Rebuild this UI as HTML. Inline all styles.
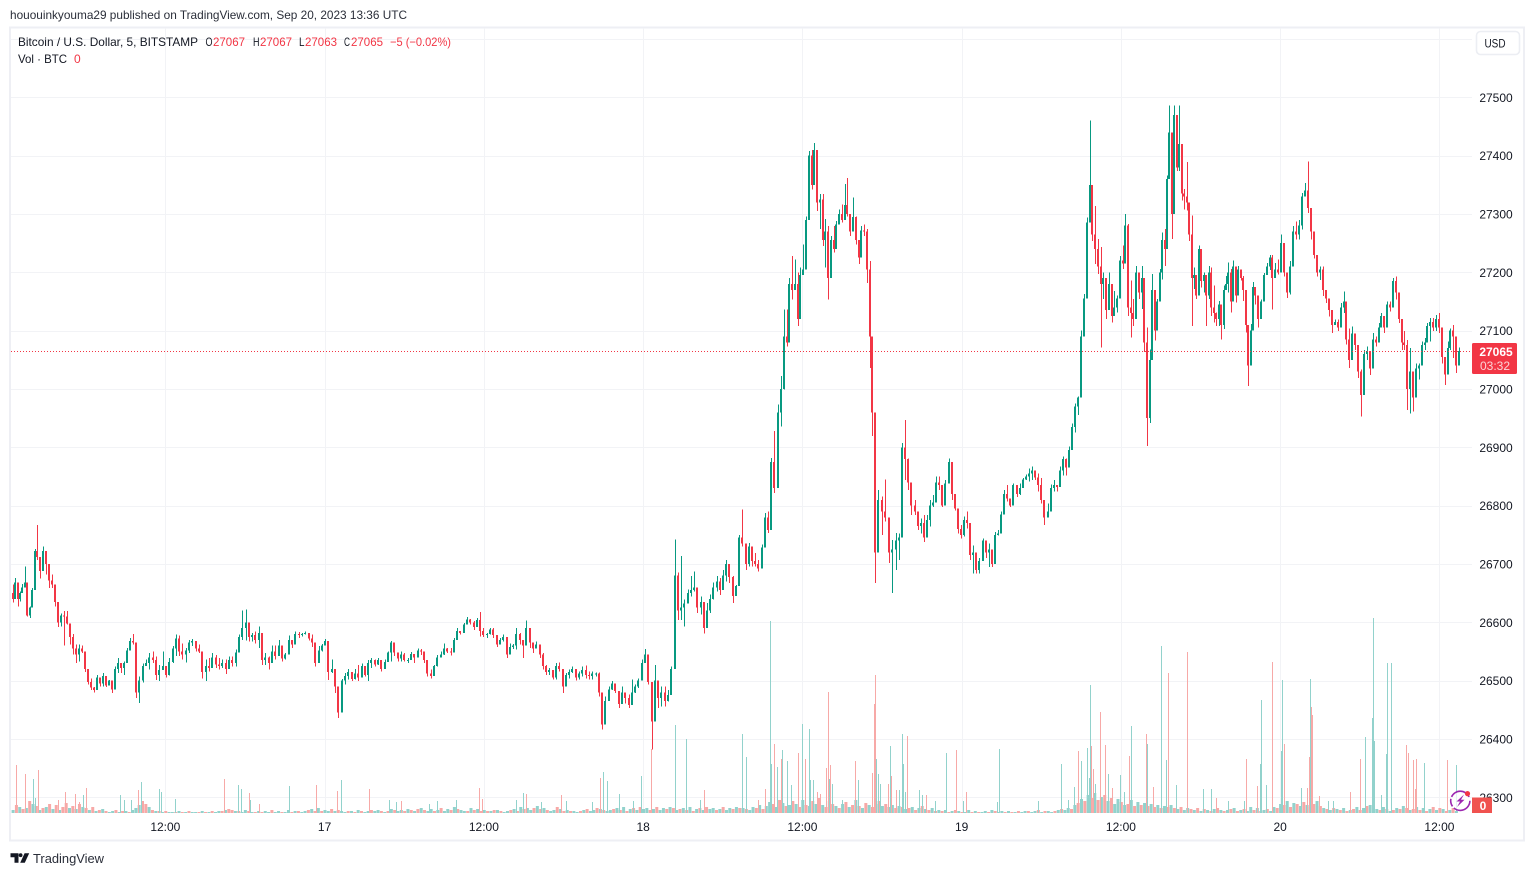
<!DOCTYPE html>
<html lang="en">
<head>
<meta charset="utf-8">
<title>BTC/USD TradingView chart</title>
<style>
html,body{margin:0;padding:0;background:#fff;width:1534px;height:876px;overflow:hidden}
svg{display:block;font-family:"Liberation Sans",sans-serif}
text{fill:#131722;font-size:12px}
.red{fill:#f23645}
</style>
</head>
<body>
<svg id="chart" width="1534" height="876" viewBox="0 0 1534 876" xmlns="http://www.w3.org/2000/svg">
  <rect x="0" y="0" width="1534" height="876" fill="#ffffff"/>
  <text x="10" y="19" textLength="397" lengthAdjust="spacingAndGlyphs" style="fill:#2a2e39">hououinkyouma29 published on TradingView.com, Sep 20, 2023 13:36 UTC</text>
  <rect x="10" y="27.5" width="1514" height="813" fill="none" stroke="#eeeff4" stroke-width="2"/>
  <g id="grid"></g>
  <g id="volumeFloorLayer"></g>
  <g id="volumeSpikeLayer"></g>
  <g id="candleLayer"></g>
  <line x1="11" x2="1472" y1="351.5" y2="351.5" stroke="#f23645" stroke-width="1" stroke-dasharray="1 2"/>
  <g id="priceAxis"></g>
  <g id="timeAxis"></g>

  <g>
    <text x="18" y="46" textLength="180" lengthAdjust="spacingAndGlyphs">Bitcoin / U.S. Dollar, 5, BITSTAMP</text>
    <text x="205.5" y="46" textLength="7" lengthAdjust="spacingAndGlyphs">O</text>
    <text class="red" x="213" y="46" textLength="32" lengthAdjust="spacingAndGlyphs">27067</text>
    <text x="253" y="46" textLength="6.5" lengthAdjust="spacingAndGlyphs">H</text>
    <text class="red" x="260" y="46" textLength="32" lengthAdjust="spacingAndGlyphs">27067</text>
    <text x="299" y="46" textLength="5.5" lengthAdjust="spacingAndGlyphs">L</text>
    <text class="red" x="305" y="46" textLength="32" lengthAdjust="spacingAndGlyphs">27063</text>
    <text x="344" y="46" textLength="6" lengthAdjust="spacingAndGlyphs">C</text>
    <text class="red" x="351" y="46" textLength="32" lengthAdjust="spacingAndGlyphs">27065</text>
    <text class="red" x="390" y="46" textLength="61" lengthAdjust="spacingAndGlyphs">−5 (−0.02%)</text>
    <text x="18" y="63" textLength="49" lengthAdjust="spacingAndGlyphs">Vol · BTC</text>
    <text class="red" x="74" y="63">0</text>
  </g>

  <g>
    <rect x="1476.5" y="31.5" width="43" height="23" rx="4" fill="#ffffff" stroke="#eceef3" stroke-width="1.6"/>
    <text x="1495" y="47.5" text-anchor="middle" textLength="21" lengthAdjust="spacingAndGlyphs">USD</text>
  </g>

  <g>
    <rect x="1472" y="343" width="45" height="31" rx="1.5" fill="#f23645"/>
    <text x="1496" y="356" text-anchor="middle" style="fill:#fff;font-weight:700">27065</text>
    <text x="1495" y="370" text-anchor="middle" style="fill:#fbd3d6">03:32</text>
  </g>

  <g>
    <rect x="1472" y="797.5" width="20" height="15.5" fill="#f0524f"/>
    <text x="1483" y="810" text-anchor="middle" style="fill:#fff;font-weight:700">0</text>
  </g>

  <g>
    <circle cx="1460.3" cy="800.8" r="9.6" fill="#ffffff" fill-opacity="0.75" stroke="#9c27b0" stroke-width="1.6" stroke-dasharray="22 2 8 2 22 4"/>
    <polygon points="1464,794.5 1456.5,801.5 1460,801.5 1457,807 1464.5,799.8 1461,799.8" fill="#9c27b0"/>
    <circle cx="1467.5" cy="793.6" r="2.6" fill="#f23645"/>
  </g>

  <g>
    <path d="M10.5 853.3h8v9.4h-4v-5.4h-4z" fill="#131722"/>
    <circle cx="20.6" cy="855.2" r="1.9" fill="#131722"/>
    <path d="M29.2 853.3l-4.4 9.4h-4.6l4.4-9.4z" fill="#131722"/>
    <text x="33" y="863" textLength="71" lengthAdjust="spacingAndGlyphs" style="font-size:13px;fill:#2a2e39">TradingView</text>
  </g>
</svg>

<script>
// ---------- Axis tick data ----------
const priceTicks = [27600,27500,27400,27300,27200,27100,27000,26900,26800,26700,26600,26500,26400,26300];
const timeTickBars = [139,283,427,571,715,859,1003,1147,1291];
const timeTickLabels = ['12:00','17','12:00','18','12:00','19','12:00','20','12:00'];

// ---------- Candle data: each row is [high, low, close]; a row opens at the previous close ----------
const firstOpen = 26650;
// Time windows in 5-minute bar numbers, and how many rows of the candle list fall in each
const windowStartBars = [0,24,117,297,604,697,782,801,966,1028,1128,1219];
const windowEndBars = [24,117,297,604,697,782,801,966,1028,1128,1219,1310];
const windowRowCounts = [11,34,60,103,32,34,6,59,25,45,34,35];

const sessionA = [
[26665,26634,26640],[26676,26645,26668],[26647,26627,26640],[26653,26636,26650],[26666,26650,26660],[26696,26662,26668],[26636,26610,26612],[26627,26607,26625],[26659,26627,26655],[26726,26659,26722],
[26767,26707,26712],[26690,26675,26688],[26730,26707,26722],[26705,26682,26700],[26693,26659,26672],[26682,26659,26665],[26660,26627,26635],[26630,26592,26600],[26615,26593,26612],[26619,26560,26610],
[26619,26596,26598],[26596,26562,26575],[26580,26545,26555],[26562,26530,26545],[26562,26533,26555],[26560,26547,26550],[26547,26515,26520],[26519,26493,26498],[26504,26484,26488],[26489,26480,26484],
[26510,26487,26505],[26504,26490,26495],[26513,26490,26508],[26504,26489,26492],[26501,26493,26500],[26496,26479,26485],[26524,26496,26520],[26539,26513,26530],[26527,26513,26522],[26533,26510,26530],
[26556,26530,26552],[26573,26553,26568],[26580,26562,26565],[26565,26470,26480],[26507,26462,26500],[26529,26497,26525],[26536,26527,26530],[26547,26519,26540],[26550,26530,26535],[26541,26501,26510],
[26527,26499,26518],[26550,26519,26525],[26524,26505,26510],[26539,26509,26532],[26559,26530,26555],[26579,26542,26572],[26577,26542,26550],[26564,26536,26545],[26556,26531,26552],[26570,26547,26565],
[26571,26559,26568],[26567,26550,26555],[26562,26547,26550],[26550,26504,26515],[26536,26499,26525],[26539,26516,26522],[26547,26530,26540],[26544,26522,26528],[26539,26519,26525],[26536,26522,26530],
[26536,26511,26520],[26541,26524,26535],[26541,26524,26530],[26553,26524,26548],[26579,26560,26575],[26620,26570,26590],[26622,26569,26600],[26593,26567,26575],[26582,26567,26578],[26584,26564,26570],
[26593,26556,26582],[26553,26527,26535],[26547,26527,26540],[26541,26519,26530],[26560,26536,26550],[26560,26536,26542],[26570,26542,26560],[26547,26533,26538],[26547,26536,26545],[26577,26547,26570],
[26570,26556,26562],[26584,26570,26580],[26583,26573,26578],[26582,26576,26580],[26584,26579,26582],[26582,26569,26572],[26579,26558,26565],[26547,26524,26530],[26559,26536,26552],[26563,26550,26560],
[26571,26564,26568],[26553,26501,26515],[26536,26513,26520],[26514,26479,26490],[26487,26436,26445]
];

const sessionB = [
[26503,26479,26500],[26513,26493,26508],[26520,26502,26515],[26513,26499,26503],[26520,26502,26512],[26527,26499,26505],[26529,26507,26525],[26519,26507,26510],[26535,26499,26530],[26539,26522,26535],
[26536,26524,26528],[26539,26527,26535],[26533,26516,26520],[26536,26522,26532],[26550,26539,26548],[26568,26533,26565],[26559,26542,26548],[26547,26533,26538],[26550,26533,26545],[26547,26533,26535],
[26539,26530,26535],[26549,26539,26546],[26544,26530,26540],[26555,26546,26552],[26554,26544,26550],[26550,26530,26535],[26530,26507,26512],[26519,26504,26508],[26527,26513,26525],[26544,26524,26540],
[26550,26542,26545],[26564,26544,26555],[26556,26547,26550],[26556,26543,26548],[26573,26553,26570],[26590,26573,26585],[26584,26579,26582],[26599,26590,26596],[26609,26596,26605],[26606,26596,26600],
[26602,26587,26592],[26607,26593,26604],[26618,26576,26585],[26590,26575,26578],[26582,26573,26580],[26590,26579,26588],[26590,26573,26578],[26576,26558,26562],[26573,26564,26570],[26579,26567,26575],
[26562,26539,26545],[26564,26553,26558],[26563,26554,26560],[26590,26553,26580],[26582,26562,26570],[26564,26539,26560],[26603,26562,26590],[26579,26556,26565],[26562,26547,26555],[26567,26558,26562],
[26556,26539,26545],[26547,26519,26525],[26527,26510,26515],[26522,26510,26518],[26516,26502,26505],[26530,26502,26525],[26531,26516,26520],[26519,26479,26490],[26513,26499,26510],[26519,26504,26515],
[26524,26513,26520],[26516,26500,26505],[26516,26502,26512],[26524,26507,26518],[26526,26504,26510],[26516,26502,26508],[26516,26502,26512],[26514,26507,26512],[26514,26473,26480],[26470,26416,26425],
[26473,26441,26465],[26490,26467,26485],[26499,26484,26495],[26490,26479,26482],[26479,26453,26460],[26490,26464,26480],[26479,26461,26470],[26476,26453,26458],[26502,26459,26480],[26493,26479,26490],
[26504,26487,26500],[26536,26513,26530],[26554,26530,26545],[26527,26493,26498],[26490,26382,26430],[26527,26456,26500],[26493,26453,26470],[26490,26456,26480],[26490,26456,26465],[26484,26464,26475],
[26524,26484,26520],[26742,26576,26680],[26685,26604,26620]
];

const sessionC = [
[26714,26604,26625],[26639,26593,26632],[26656,26633,26650],[26679,26644,26655],[26687,26653,26660],[26650,26616,26625],[26644,26613,26635],[26610,26581,26590],[26633,26599,26620],[26648,26616,26640],
[26668,26639,26660],[26679,26653,26670],[26676,26647,26655],[26690,26661,26680],[26707,26670,26700],[26684,26667,26678],[26679,26633,26645],[26664,26653,26662],[26750,26684,26745],[26793,26730,26735],
[26724,26690,26700],[26736,26696,26730],[26730,26696,26705],[26719,26696,26700],[26707,26687,26692],[26733,26702,26728],[26787,26745,26780],[26790,26753,26758],[26882,26779,26875],[26928,26822,26830],
[26973,26916,26960],[27022,26936,27000],[27136,26999,27090],[27136,27073,27080],[27190,27102,27180],[27228,27153,27170],[27222,27171,27180],[27200,27108,27120],[27208,27148,27195],[27248,27199,27205],
[27296,27205,27290],[27408,27296,27400],[27410,27342,27350],[27422,27371,27410],[27362,27305,27320],[27334,27274,27325],[27334,27245,27255],[27291,27208,27270],[27279,27153,27190],[27262,27245,27255],
[27279,27234,27240],[27288,27256,27282],[27308,27285,27300],[27316,27285,27290],[27351,27308,27315],[27362,27296,27300],[27299,27262,27270],[27328,27274,27295],[27296,27248,27255],[27251,27214,27225],
[27279,27248,27272],[27282,27262,27270],[27274,27182,27205],[27219,27036,27090],[27028,26919,26960],[26936,26667,26720],[26827,26765,26810],[26816,26750,26790],[26845,26773,26780],[26776,26702,26720],
[26741,26650,26725],[26753,26690,26740]
];

const sessionD = [
[26752,26707,26745],[26907,26752,26900],[26947,26844,26880],[26881,26827,26840],[26827,26784,26800],[26810,26784,26790],[26790,26758,26765],[26778,26752,26770],[26784,26738,26745],[26784,26761,26775],
[26810,26764,26800],[26818,26798,26805],[26850,26807,26840],[26850,26827,26835],[26832,26798,26800],[26844,26812,26838],[26881,26852,26875],[26855,26810,26820],[26810,26792,26795],[26784,26752,26760],
[26767,26744,26750],[26781,26747,26775],[26790,26761,26770],[26761,26707,26715],[26732,26684,26720],[26712,26684,26690],[26710,26684,26705],[26744,26712,26740],[26727,26710,26720],[26735,26695,26725],
[26711,26695,26700],[26755,26710,26750],[26758,26749,26752],[26790,26752,26785],[26827,26798,26820],[26835,26807,26812],[26810,26798,26800],[26838,26821,26835],[26835,26815,26820],[26838,26818,26830],
[26847,26838,26845],[26853,26844,26850],[26864,26841,26855],[26867,26844,26860],[26853,26844,26848],[26855,26824,26835],[26847,26804,26810],[26801,26767,26780],[26804,26781,26790],[26836,26790,26830],
[26844,26824,26835],[26835,26824,26832],[26867,26835,26860],[26884,26852,26880],[26881,26852,26865],[26901,26873,26895],[26941,26918,26935],[26975,26925,26970],[26987,26955,26985]
];

const sessionE = [
[27100,27042,27090],[27163,27108,27155],[27294,27186,27285],[27460,27326,27350],[27326,27254,27265],[27314,27214,27240],[27257,27197,27210],[27243,27071,27180],[27200,27154,27190],[27183,27120,27135],
[27200,27145,27180],[27168,27114,27125],[27168,27131,27140],[27160,27131,27155],[27228,27160,27220],[27246,27206,27215],[27300,27237,27280],[27283,27125,27140],[27186,27088,27130],[27154,27108,27120],
[27211,27154,27200],[27194,27154,27165],[27211,27137,27190],[27183,27063,27080],[27105,26902,26950],[27068,26942,27050],[27197,27085,27170],[27160,27083,27100],[27154,27125,27150],[27206,27154,27200],
[27268,27188,27255],[27274,27211,27240],[27366,27280,27360],[27486,27366,27440],[27377,27257,27300],[27486,27306,27470],[27454,27374,27380],[27486,27374,27420],[27366,27323,27335],[27343,27308,27330],
[27389,27306,27320],[27297,27254,27265],[27297,27108,27190],[27208,27171,27195],[27194,27154,27160],[27246,27206,27240],[27217,27174,27185],[27200,27165,27195],[27188,27108,27160],[27211,27154,27200],
[27208,27125,27140],[27177,27114,27130],[27131,27108,27120],[27151,27108,27145],[27143,27085,27110],[27177,27103,27170],[27194,27171,27180],[27217,27165,27200],[27206,27131,27150],[27220,27154,27210],
[27183,27148,27160],[27211,27171,27205],[27203,27186,27190],[27194,27151,27170],[27148,27097,27110],[27100,27005,27040],[27111,27074,27100],[27183,27140,27175],[27168,27145,27160],[27148,27105,27120]
];

const sessionF = [
[27153,27127,27150],[27199,27187,27195],[27216,27196,27210],[27230,27204,27225],[27230,27136,27190],[27216,27199,27205],[27222,27196,27200],[27265,27227,27250],[27236,27193,27200],[27190,27156,27165],
[27219,27162,27210],[27279,27219,27270],[27287,27256,27265],[27290,27256,27280],[27336,27273,27330],[27353,27333,27340],[27390,27302,27310],[27290,27256,27270],[27262,27224,27230],[27230,27193,27200],
[27210,27187,27205],[27210,27159,27170],[27164,27147,27155],[27153,27124,27135],[27124,27096,27110],[27119,27110,27115],[27119,27099,27105],[27147,27110,27140],[27167,27130,27150],[27110,27076,27085],
[27104,27036,27050],[27107,27070,27095],[27090,27067,27075],[27070,27019,27030],[27033,26953,26990],[27067,27039,27060],[27073,27050,27065],[27055,27024,27035],[27096,27056,27085],[27090,27073,27080],
[27113,27087,27105],[27130,27113,27125],[27122,27096,27105],[27150,27130,27145],[27150,27133,27140],[27190,27156,27185],[27193,27153,27165],[27142,27113,27120],[27116,27067,27080],[27099,27067,27075],
[27084,26964,27000],[27070,26958,27030],[27010,26961,26985],[27044,27030,27035],[27044,27016,27040],[27081,27047,27075],[27087,27067,27080],[27113,27096,27108],[27122,27081,27115],[27122,27099,27105],
[27127,27099,27120],[27130,27096,27105],[27079,27044,27055],[27041,27007,27025],[27081,27039,27070],[27104,27067,27100],[27110,27053,27090],[27076,27027,27040],[27071,27063,27065]
];

const candleRows = [].concat(sessionA,sessionB,sessionC,sessionD,sessionE,sessionF);

// ---------- Volume data: positive = up bar, negative = down bar ----------
// Background volume, one entry for every three 5-minute bars
const volumeFloorStepBars = 3;
const volumeFloor = [
3,-8,6,-4,5,-12,9,-7,3,-5,6,-9,4,-8,3,-6,-10,5,-7,4,
-9,6,-5,3,-6,2,-3,4,-2,1,2,-3,1,-2,2,-1,3,5,8,-12,
-9,6,-3,2,-2,1,-2,1,1,-1,2,-1,1,-2,1,1,-1,2,-1,1,
-2,1,2,-2,3,-4,-3,2,-2,1,3,-2,1,-1,2,-1,2,1,-3,1,
2,-1,1,3,-1,2,-2,1,2,-3,4,-2,5,-2,3,2,-4,2,-3,2,
1,-2,2,-1,3,-2,1,2,-3,2,3,-2,1,-2,4,-3,2,3,-2,4,
-3,2,-4,5,-3,2,4,-2,3,-5,2,4,-3,6,-4,3,2,-2,5,-3,
4,-2,3,-2,2,-3,3,-2,1,2,-3,4,-2,6,-4,5,3,-5,7,-4,
5,-3,2,3,-6,4,-2,3,-2,2,1,-2,3,-4,2,3,-5,4,-3,2,
3,-4,5,-3,6,-2,4,-5,3,-6,4,5,-3,4,-6,3,5,-4,6,-5,
3,-4,5,-3,6,-2,4,-5,3,-6,4,5,-3,4,-6,3,5,-4,6,-5,
5,-4,3,6,-5,8,-4,7,11,-9,6,-13,10,-7,8,-12,9,-6,13,-8,
7,-12,9,-15,8,-6,12,-9,7,-5,9,-11,6,-8,13,-7,5,-10,8,-6,
9,-12,7,-9,6,8,-5,7,-6,4,-5,6,-3,5,-7,4,-3,5,-2,3,
-2,3,-1,2,-3,2,-1,1,3,-1,2,-1,1,2,-1,3,-2,1,2,-1,
2,-1,1,-2,1,2,-2,1,2,-3,1,-2,2,1,-2,3,-4,3,5,-4,
8,-10,14,-12,18,-15,20,-13,16,-18,12,-15,9,14,-11,8,-9,13,-7,11,
-8,10,-7,9,-6,8,-5,7,-6,8,-5,4,-6,3,5,-4,3,-5,2,-4,
3,-2,4,-5,3,-2,3,-4,5,-2,3,-4,2,6,-3,5,-2,3,-4,2,
6,-5,9,-8,12,-6,10,-9,7,-11,8,6,-9,12,-7,5,-4,3,-5,4,
-3,5,-2,3,-4,6,-3,5,-7,8,-5,4,-3,6,-4,2,-3,5,-4,7,
-5,3,-4,6,-3,5,-2,4,-6,3,-5,4,-2,3,-5,2
];

// Isolated volume spikes as [5-minute bar number, signed volume]
const volumeSpikes = [
[4,-48],[12,-39],[19,34],[21,15],[24,-43],[42,-13],[48,-21],[57,-19],[61,-11],[65,18],[67,-25],[98,18],[102,13],[108,13],[114,-23],[117,31],[133,24],[135,21],[148,14],
[192,-34],[205,28],[207,24],[215,-20],[216,13],[224,-9],[251,27],[275,-28],[294,-22],[298,33],[323,-24],[341,13],[348,11],[352,-12],[377,9],[385,12],[402,13],[423,-25],[425,-14],
[456,13],[462,20],[465,-19],[479,11],[497,-18],[501,12],[525,11],[532,-35],[535,41],[538,32],[549,19],[562,12],[569,37],[578,-64],[600,88],[610,74],[622,13],[626,-23],[660,79],[664,56],[675,-13],
[681,-24],[686,192],[687,49],[689,-69],[692,46],[696,-54],[697,63],[701,52],[705,28],[711,-60],[715,89],[717,-54],[721,84],[722,33],[725,33],[728,-21],[731,-19],[736,-45],[738,-121],[739,34],[740,-48],[742,29],[751,13],
[763,-52],[765,33],[778,-40],[780,-109],[781,-138],[782,54],[783,39],[785,29],[792,-29],[794,67],[795,-37],[800,-23],[802,23],[805,79],[806,49],[808,21],[810,-77],[820,23],[823,18],[827,-18],[835,12],[845,60],[854,-63],[860,12],[863,-21],
[891,11],[893,64],[928,12],[949,49],[955,13],[961,26],[964,-62],[967,52],[972,65],[974,35],[975,128],[976,-67],[978,-44],[980,29],[984,-101],[989,-68],[991,39],[995,-25],[1002,38],[1006,21],[1010,-57],[1012,87],[1026,-79],[1027,69],[1032,-26],[1039,167],[1044,53],[1046,-140],[1053,28],[1063,-161],
[1077,24],[1084,24],[1089,-15],[1100,12],[1114,12],[1116,-54],[1126,-27],[1129,49],[1130,113],[1134,28],[1140,-151],[1148,62],[1149,133],[1150,-69],[1166,25],[1171,-25],[1173,-56],[1174,134],[1175,-106],[1176,-98],[1182,-17],[1190,12],[1195,12],
[1210,-21],[1219,-54],[1224,76],[1230,95],[1231,195],[1232,72],[1238,18],[1243,59],[1244,150],[1247,150],[1261,-68],[1263,-60],[1267,-53],[1269,-24],[1270,-54],[1277,50],[1298,-53],[1306,48]
];

// ---------- Axis functions ----------
function barX(bar){ return 11.6 + bar * 1.106; }
function priceY(price){ return 97.3 + (27500 - price) * 0.58333; }
function volumeY(vol){ return 813 - vol; }

const NS = 'http://www.w3.org/2000/svg';
function make(tag, parent, attrs){
  const el = document.createElementNS(NS, tag);
  for (const k in attrs) el.setAttribute(k, attrs[k]);
  parent.appendChild(el);
  return el;
}

// ---------- Grid and axes ----------
const gridLayer = document.getElementById('grid');
const priceAxis = document.getElementById('priceAxis');
const timeAxis = document.getElementById('timeAxis');

priceTicks.forEach(function(p){
  const y = Math.round(priceY(p)) + 0.5;
  const line = make('line', gridLayer, {x1:11, x2:1472, y1:y, y2:y, stroke:'#f2f3f6', 'stroke-width':1});
  
  
  if (p < 27600) {
    const label = make('text', priceAxis, {x:1496, y:priceY(p) + 4.5, 'text-anchor':'middle'});
    label.textContent = String(p);
    
    
  }
});

timeTickBars.forEach(function(b, i){
  const x = Math.round(barX(b)) + 0.5;
  const line = make('line', gridLayer, {x1:x, x2:x, y1:28, y2:813, stroke:'#f2f3f6', 'stroke-width':1});
  
  
  const label = make('text', timeAxis, {x:barX(b), y:831, 'text-anchor':'middle'});
  label.textContent = timeTickLabels[i];
  
  
});

// ---------- Volume ----------
const floorLayer = document.getElementById('volumeFloorLayer');
const spikeLayer = document.getElementById('volumeSpikeLayer');
const volUp = '#92d2cc';
const volDown = '#f7a9a7';

volumeFloor.forEach(function(v, i){
  const h = Math.abs(v);
  const bar = make('rect', floorLayer, {
    x: barX(i * volumeFloorStepBars), y: volumeY(h), width: 3, height: h,
    fill: v >= 0 ? volUp : volDown
  });
  
  
});

volumeSpikes.forEach(function(s){
  const h = Math.abs(s[1]);
  const bar = make('rect', spikeLayer, {
    x: Math.round(barX(s[0])), y: volumeY(h), width: 1, height: h,
    fill: s[1] >= 0 ? volUp : volDown, 'shape-rendering': 'crispEdges'
  });
  
  
});

// ---------- Candles ----------
const candleLayer = document.getElementById('candleLayer');
const upColor = '#089981';
const downColor = '#f23645';
let previousClose = firstOpen;
let rowIndex = 0;

windowRowCounts.forEach(function(count, w){
  const startBar = windowStartBars[w];
  const span = (windowEndBars[w] - startBar) / count;
  for (let j = 0; j < count; j++) {
    const row = candleRows[rowIndex];
    rowIndex += 1;
    const high = row[0], low = row[1], close = row[2];
    const open = previousClose;
    previousClose = close;
    const color = close >= open ? upColor : downColor;
    const x = Math.round(barX(startBar + (j + 0.5) * span));
    const wick = make('rect', candleLayer, {
      x: x, y: priceY(high), width: 1, height: Math.max(1, priceY(low) - priceY(high)),
      fill: color, 'shape-rendering': 'crispEdges'
    });
    
    
    const top = Math.max(open, close), bottom = Math.min(open, close);
    const body = make('rect', candleLayer, {
      x: x - 1, y: priceY(top), width: 2, height: Math.max(1, priceY(bottom) - priceY(top)),
      fill: color, 'shape-rendering': 'crispEdges'
    });
    
    
  }
});
</script>
</body>
</html>
